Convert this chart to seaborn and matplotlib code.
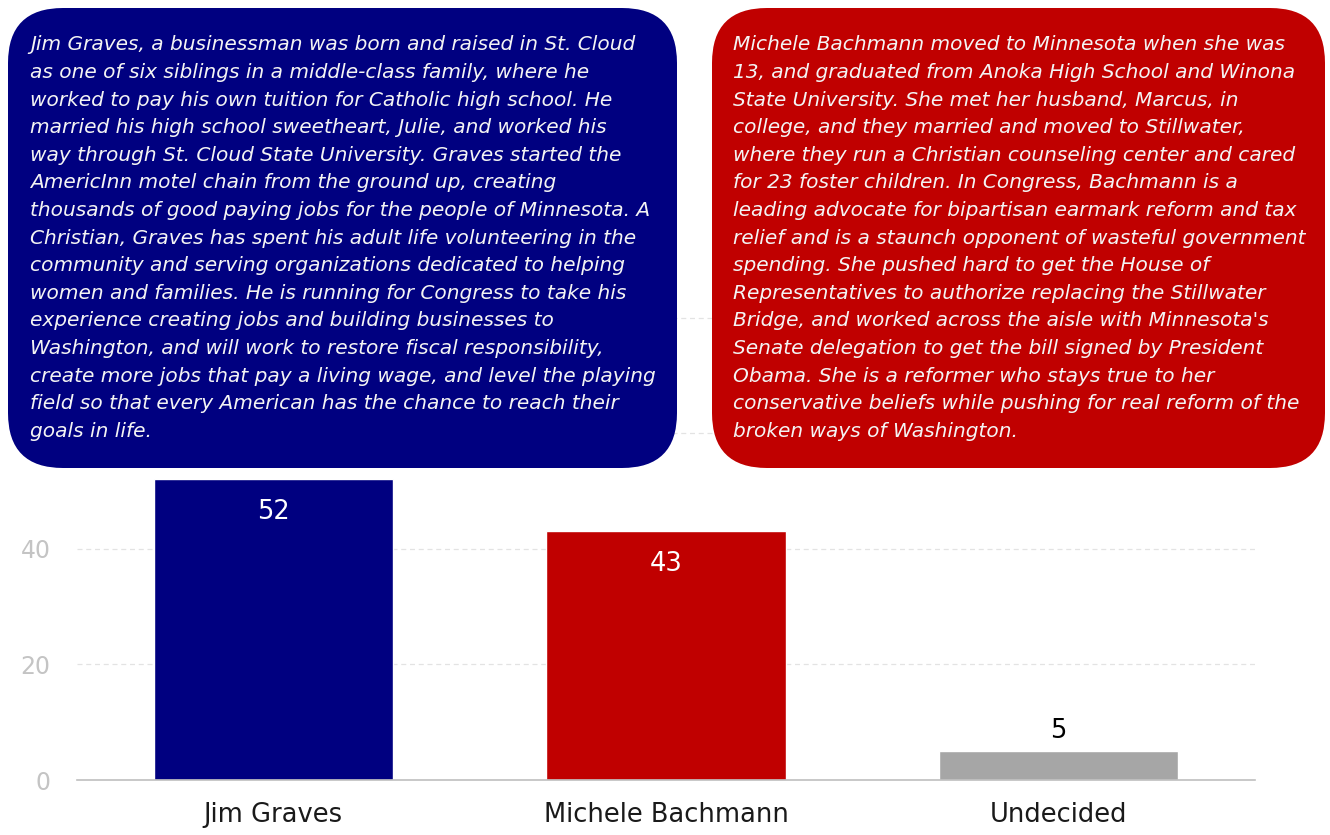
import matplotlib.pyplot as plt
import seaborn as sns
import pandas as pd
from matplotlib.patches import FancyBboxPatch

sns.set_theme(style="white")
# the reference type is a horizontally widened Arial; DejaVu Sans matches its proportions
plt.rcParams["font.family"] = ["DejaVu Sans"]

# ------------------------------------------------------------------
# data
# ------------------------------------------------------------------
candidates = ["Jim Graves", "Michele Bachmann", "Undecided"]
support = [52, 43, 5]
bar_colors = ["#000080", "#C00000", "#A6A6A6"]
label_colors = ["white", "white", "black"]
y_ticks = [0, 20, 40, 60, 80]
y_ticklabels = ["0", "20", "40", "", ""]   # upper labels sit behind the boxes

graves_bio = [
    "Jim Graves, a businessman was born and raised in St. Cloud",
    "as one of six siblings in a middle-class family, where he",
    "worked to pay his own tuition for Catholic high school. He",
    "married his high school sweetheart, Julie, and worked his",
    "way through St. Cloud State University. Graves started the",
    "AmericInn motel chain from the ground up, creating",
    "thousands of good paying jobs for the people of Minnesota. A",
    "Christian, Graves has spent his adult life volunteering in the",
    "community and serving organizations dedicated to helping",
    "women and families. He is running for Congress to take his",
    "experience creating jobs and building businesses to",
    "Washington, and will work to restore fiscal responsibility,",
    "create more jobs that pay a living wage, and level the playing",
    "field so that every American has the chance to reach their",
    "goals in life.",
]
bachmann_bio = [
    "Michele Bachmann moved to Minnesota when she was",
    "13, and graduated from Anoka High School and Winona",
    "State University. She met her husband, Marcus, in",
    "college, and they married and moved to Stillwater,",
    "where they run a Christian counseling center and cared",
    "for 23 foster children. In Congress, Bachmann is a",
    "leading advocate for bipartisan earmark reform and tax",
    "relief and is a staunch opponent of wasteful government",
    "spending. She pushed hard to get the House of",
    "Representatives to authorize replacing the Stillwater",
    "Bridge, and worked across the aisle with Minnesota's",
    "Senate delegation to get the bill signed by President",
    "Obama. She is a reformer who stays true to her",
    "conservative beliefs while pushing for real reform of the",
    "broken ways of Washington.",
]

df = pd.DataFrame({"candidate": candidates, "support": support})

# ------------------------------------------------------------------
# bar chart
# ------------------------------------------------------------------
fig = plt.figure(figsize=(13.3, 8.35), dpi=100)
ax = fig.add_axes([77 / 1330, 55 / 835, 1178 / 1330, 578 / 835])

sns.barplot(data=df, x="candidate", y="support", hue="candidate",
            palette=bar_colors, width=0.61, saturation=1, legend=False,
            ax=ax, zorder=2)

ax.set_ylim(0, 100)
ax.set_xlim(-0.5, 2.5)
ax.set_yticks(y_ticks)
ax.set_yticklabels(y_ticklabels)
ax.set_xlabel("")
ax.set_ylabel("")
ax.grid(axis="y", color="#E3E3E3", linestyle=(0, (4, 3)), linewidth=0.9, zorder=0)
ax.set_axisbelow(True)

for s in ["top", "right", "left"]:
    ax.spines[s].set_visible(False)
ax.spines["bottom"].set_color("#BFBFBF")
ax.spines["bottom"].set_linewidth(1.2)

ax.tick_params(axis="y", length=0, labelsize=17, labelcolor="#C4C4C4", pad=19)
ax.tick_params(axis="x", which="major", length=0, labelsize=18.5, labelcolor="#1A1A1A", pad=16)
ax.set_xticks([-0.5, 0.5, 1.5, 2.5], minor=True)
ax.tick_params(axis="x", which="minor", length=6, width=1.2, color="#BFBFBF", direction="out")

for cont, col in zip(ax.containers, label_colors):
    pad = -33 if col == "white" else 5
    txts = ax.bar_label(cont, padding=pad, fontsize=18.5)
    for t in txts:
        t.set_color(col)

# ------------------------------------------------------------------
# overlay with the two rounded text boxes (pixel coordinates)
# ------------------------------------------------------------------
ov = fig.add_axes([0, 0, 1, 1], zorder=5)
ov.set_xlim(0, 1330)
ov.set_ylim(835, 0)
ov.axis("off")
ov.patch.set_alpha(0)

boxes = [
    (8, 8, 669, 460, "#000080", 30, graves_bio),
    (712, 8, 613, 460, "#C00000", 733, bachmann_bio),
]
for x0, y0, w, h, fc, tx, lines in boxes:
    ov.add_patch(FancyBboxPatch((x0, y0), w, h,
                                boxstyle="round,pad=0,rounding_size=55",
                                fc=fc, ec="none"))
    for i, line in enumerate(lines):
        ov.text(tx, 45 + i * 27.6, line, color="#F4F4F4", fontsize=14.5,
                style="italic", va="center", ha="left")

fig.savefig("out.png", dpi=100)
